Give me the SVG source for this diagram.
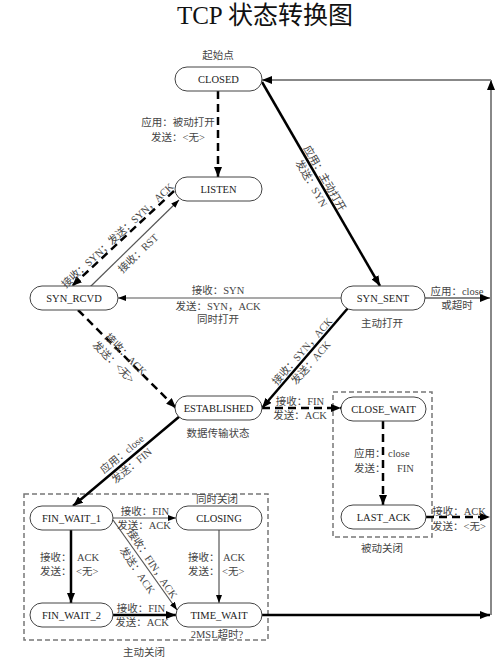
<svg xmlns="http://www.w3.org/2000/svg" width="502" height="660" viewBox="0 0 502 660">
<defs>
<style>
.node rect{fill:#fff;stroke:#444;stroke-width:1}
.node text{font-family:"Liberation Serif","Noto Sans CJK SC",serif;font-size:10.5px;fill:#222;text-anchor:middle}
.lbl{font-family:"Liberation Serif","Noto Sans CJK SC",serif;font-size:10.5px;fill:#444}
.c{text-anchor:middle}
.thick{stroke:#000;stroke-width:2.5;fill:none}
.dash{stroke:#000;stroke-width:2.5;fill:none;stroke-dasharray:8 5}
.thin{stroke:#555;stroke-width:1.2;fill:none}
.gray{stroke:#888;stroke-width:2;fill:none}
.box{fill:none;stroke:#777;stroke-width:1.5;stroke-dasharray:5 3}
</style>
<marker id="ah" viewBox="0 0 10 8" refX="10" refY="4" markerWidth="10" markerHeight="8" markerUnits="userSpaceOnUse" orient="auto"><path d="M0,0L10,4L0,8z" fill="#000"/></marker>
<marker id="as" viewBox="0 0 8 6" refX="8" refY="3" markerWidth="8" markerHeight="6" markerUnits="userSpaceOnUse" orient="auto"><path d="M0,0L8,3L0,6z" fill="#000"/></marker>
</defs>
<rect width="502" height="660" fill="#fff"/>
<text x="265" y="24" font-family="Liberation Serif, Noto Sans CJK SC, serif" font-size="25" text-anchor="middle" fill="#111">TCP 状态转换图</text>

<g id="groups">
<rect class="box" x="24" y="494" width="244" height="146"/>
<rect class="box" x="333" y="392" width="99" height="145"/>
</g>

<g id="connectors">
<path class="dash" d="M218,91L218,177" marker-end="url(#ah)"/>
<path class="thick" d="M262,82L380,286" marker-end="url(#ah)"/>
<path class="dash" d="M174,191L72,286" marker-end="url(#ah)"/>
<path class="thin" d="M90,287L179,200" marker-end="url(#as)"/>
<path class="thin" d="M341,298L118,298" marker-end="url(#as)"/>
<path class="dash" d="M78,310L176,408" marker-end="url(#ah)"/>
<path class="thick" d="M348,308L262,408" marker-end="url(#ah)"/>
<path class="gray" d="M425,298L490,298" marker-end="url(#ah)"/>
<path class="dash" d="M262,408L341,408" marker-end="url(#ah)"/>
<path class="dash" d="M383,421L383,505" marker-end="url(#ah)"/>
<path class="dash" d="M426,517L490,517" marker-end="url(#ah)"/>
<path class="thick" d="M180,416L73,506" marker-end="url(#ah)"/>
<path class="thin" d="M113,518L176,518" marker-end="url(#as)"/>
<path class="thick" d="M71,530L71,603" marker-end="url(#ah)"/>
<path class="thin" d="M113,520L177,610" marker-end="url(#as)"/>
<path class="thin" d="M219,530L219,603" marker-end="url(#as)"/>
<path class="thick" d="M113,615L176,615" marker-end="url(#ah)"/>
<path class="thick" d="M262,615L490,615" marker-end="url(#ah)"/>
<path class="gray" d="M491,615L491,80" marker-end="url(#ah)"/>
<path class="gray" d="M491,80L262,80" marker-end="url(#ah)"/>
</g>

<g id="CLOSED" class="node"><rect x="175" y="67" width="87" height="24" rx="12"/><text x="218.5" y="83">CLOSED</text></g>
<g id="LISTEN" class="node"><rect x="175" y="177" width="87" height="24" rx="12"/><text x="218.5" y="193">LISTEN</text></g>
<g id="SYN_RCVD" class="node"><rect x="30" y="286" width="88" height="24" rx="12"/><text x="74" y="302">SYN_RCVD</text></g>
<g id="SYN_SENT" class="node"><rect x="341" y="286" width="84" height="24" rx="12"/><text x="383" y="302">SYN_SENT</text></g>
<g id="ESTABLISHED" class="node"><rect x="175" y="396" width="87" height="24" rx="12"/><text x="218.5" y="412">ESTABLISHED</text></g>
<g id="CLOSE_WAIT" class="node"><rect x="341" y="397" width="85" height="24" rx="12"/><text x="383.5" y="413">CLOSE_WAIT</text></g>
<g id="LAST_ACK" class="node"><rect x="341" y="505" width="85" height="24" rx="12"/><text x="383.5" y="521">LAST_ACK</text></g>
<g id="FIN_WAIT_1" class="node"><rect x="30" y="506" width="83" height="24" rx="12"/><text x="71.5" y="522">FIN_WAIT_1</text></g>
<g id="CLOSING" class="node"><rect x="176" y="506" width="86" height="24" rx="12"/><text x="219" y="522">CLOSING</text></g>
<g id="FIN_WAIT_2" class="node"><rect x="30" y="603" width="83" height="24" rx="12"/><text x="71.5" y="619">FIN_WAIT_2</text></g>
<g id="TIME_WAIT" class="node"><rect x="176" y="603" width="86" height="24" rx="12"/><text x="219" y="619">TIME_WAIT</text></g>

<g id="labels" class="lbl">
<text class="c" x="218" y="59">起始点</text>
<text class="c" x="382" y="327">主动打开</text>
<text class="c" x="218" y="437">数据传输状态</text>
<text class="c" x="382" y="552">被动关闭</text>
<text class="c" x="144" y="656">主动关闭</text>
<text class="c" x="217" y="503">同时关闭</text>
<text class="c" x="217" y="638">2MSL超时?</text>

<text class="c" x="178" y="126">应用：被动打开</text>
<text class="c" x="178" y="141">发送：&lt;无&gt;</text>

<g transform="translate(325,178) rotate(60)"><text class="c" x="0" y="4">应用：主动打开</text><text class="c" x="-2" y="18">发送：SYN</text></g>

<g transform="translate(120,238) rotate(-43)"><text class="c" x="0" y="0">接收：SYN；发送：SYN，ACK</text></g>
<g transform="translate(138,253) rotate(-44)"><text class="c" x="0" y="4">接收：RST</text></g>

<text class="c" x="218" y="294">接收：SYN</text>
<text class="c" x="218" y="310">发送：SYN，ACK</text>
<text class="c" x="218" y="323">同时打开</text>

<text class="c" x="457" y="295">应用：close</text>
<text class="c" x="457" y="309">或超时</text>

<g transform="translate(126,354) rotate(45)"><text class="c" x="0" y="4">接收：ACK</text><text class="c" x="-3" y="18">发送：&lt;无&gt;</text></g>

<g transform="translate(302,351) rotate(-49)"><text class="c" x="0" y="4">接收：SYN，ACK</text><text class="c" x="-3" y="18">发送：ACK</text></g>

<text class="c" x="300" y="405">接收：FIN</text>
<text class="c" x="300" y="419">发送：ACK</text>

<text x="354" y="457">应用：<tspan x="388">close</tspan></text>
<text x="354" y="472">发送：<tspan x="397">FIN</tspan></text>

<text class="c" x="459" y="515">接收：ACK</text>
<text class="c" x="459" y="530">发送：&lt;无&gt;</text>

<g transform="translate(127,460) rotate(-40)"><text class="c" x="0" y="-4">应用：close</text><text class="c" x="0" y="11">发送：FIN</text></g>

<text class="c" x="145" y="515">接收：FIN</text>
<text class="c" x="144" y="529">发送：ACK</text>

<text x="40" y="561">接收：<tspan x="77">ACK</tspan></text>
<text x="40" y="575">发送：<tspan x="76">&lt;无&gt;</tspan></text>

<g transform="translate(146,568) rotate(56)"><text class="c" x="0" y="-4">接收：FIN，ACK</text><text class="c" x="-3" y="12">发送：ACK</text></g>

<text x="188" y="561">接收：<tspan x="223">ACK</tspan></text>
<text x="188" y="575">发送：<tspan x="222">&lt;无&gt;</tspan></text>

<text class="c" x="141" y="612">接收：FIN</text>
<text class="c" x="142" y="626">发送：ACK</text>
</g>
</svg>
